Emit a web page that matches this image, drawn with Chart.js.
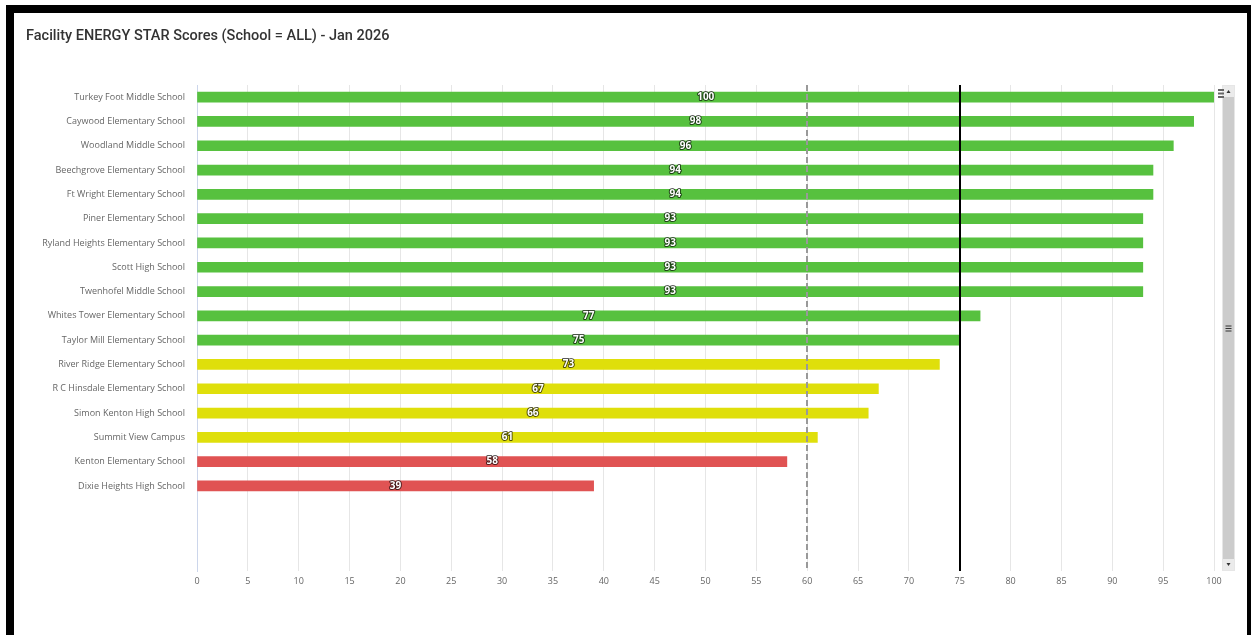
<!DOCTYPE html>
<html>
<head>
<meta charset="utf-8">
<title>Facility ENERGY STAR Scores</title>
<script src="https://cdn.jsdelivr.net/npm/chart.js@4.4.1/dist/chart.umd.min.js"></script>
<style>
  html, body { margin: 0; padding: 0; background: #fff; overflow: hidden; }
  #frame {
    position: absolute; left: 6px; top: 5px; width: 1249px; height: 700px;
    border: 8px solid #000; box-sizing: border-box; background: #fff;
  }
  #wrap { position: absolute; left: 0; top: 0; width: 1233px; height: 622px; }
</style>
</head>
<body>
<div id="frame">
  <div id="wrap"><canvas id="grafico"></canvas></div>
</div>
<script>
// datos del gráfico
const schools = [
  'Turkey Foot Middle School',
  'Caywood Elementary School',
  'Woodland Middle School',
  'Beechgrove Elementary School',
  'Ft Wright Elementary School',
  'Piner Elementary School',
  'Ryland Heights Elementary School',
  'Scott High School',
  'Twenhofel Middle School',
  'Whites Tower Elementary School',
  'Taylor Mill Elementary School',
  'River Ridge Elementary School',
  'R C Hinsdale Elementary School',
  'Simon Kenton High School',
  'Summit View Campus',
  'Kenton Elementary School',
  'Dixie Heights High School',
  '', '', ''   // filas vacías al final del eje
];
const scores = [100, 98, 96, 94, 94, 93, 93, 93, 93, 77, 75, 73, 67, 66, 61, 58, 39, null, null, null];
const xMin = 0, xMax = 100, xStep = 5;
const dashedLineAt = 60;
const solidLineAt = 75;

const GREEN = '#57c13f', YELLOW = '#dfdf0b', RED = '#e05353';
const barColors = scores.map(v => v >= solidLineAt ? GREEN : (v >= dashedLineAt ? YELLOW : RED));

// líneas verticales en 60 y 75
const plotLines = {
  id: 'plotLines',
  afterDatasetsDraw(chart) {
    const { ctx, chartArea: a, scales: { x } } = chart;
    ctx.save();
    ctx.lineWidth = 2;
    let px = Math.round(x.getPixelForValue(dashedLineAt));
    ctx.strokeStyle = '#999999';
    ctx.setLineDash([6, 3]);
    ctx.beginPath(); ctx.moveTo(px, a.top); ctx.lineTo(px, a.bottom); ctx.stroke();
    px = Math.round(x.getPixelForValue(solidLineAt));
    ctx.strokeStyle = '#000000';
    ctx.setLineDash([]);
    ctx.beginPath(); ctx.moveTo(px, a.top); ctx.lineTo(px, a.bottom); ctx.stroke();
    ctx.restore();
  }
};

// etiquetas en el centro de cada barra
const barLabels = {
  id: 'barLabels',
  afterDatasetsDraw(chart) {
    const { ctx } = chart;
    const meta = chart.getDatasetMeta(0);
    ctx.save();
    ctx.font = 'bold 10px "Open Sans", sans-serif';
    ctx.textAlign = 'center';
    ctx.textBaseline = 'middle';
    ctx.lineJoin = 'round';
    meta.data.forEach((bar, i) => {
      const v = scores[i];
      if (v === null) return;
      const cx = (bar.x + bar.base) / 2;
      ctx.lineWidth = 2;
      ctx.strokeStyle = 'rgba(0,0,0,0.65)';
      ctx.strokeText(String(v), cx, bar.y);
      ctx.fillStyle = '#ffffff';
      ctx.fillText(String(v), cx, bar.y);
    });
    ctx.restore();
  }
};

// barra de desplazamiento y menú
const scrollBar = {
  id: 'scrollBar',
  afterDraw(chart) {
    const { ctx, chartArea: a } = chart;
    const sx = a.right + 9, w = 11;
    ctx.save();
    ctx.fillStyle = '#e6e6e6';
    ctx.fillRect(sx - 1, a.top, w + 2, a.bottom - a.top);
    ctx.fillStyle = '#cccccc';
    ctx.fillRect(sx, a.top + 1, w, a.bottom - a.top - 2);
    // botones
    ctx.fillStyle = '#ebebeb';
    ctx.fillRect(sx, a.top + 1, w, 11);
    ctx.fillRect(sx, a.bottom - 12, w, 11);
    ctx.fillStyle = '#333333';
    const mx = sx + w / 2;
    ctx.beginPath(); ctx.moveTo(mx - 2, a.top + 8); ctx.lineTo(mx + 2, a.top + 8); ctx.lineTo(mx, a.top + 5); ctx.fill();
    ctx.beginPath(); ctx.moveTo(mx - 2, a.bottom - 8); ctx.lineTo(mx + 2, a.bottom - 8); ctx.lineTo(mx, a.bottom - 5); ctx.fill();
    // agarre
    const my = (a.top + a.bottom) / 2;
    ctx.strokeStyle = '#333333';
    ctx.lineWidth = 1;
    for (let k = -1; k <= 1; k++) {
      ctx.beginPath(); ctx.moveTo(mx - 3, my + k * 2.5 + 0.5); ctx.lineTo(mx + 3, my + k * 2.5 + 0.5); ctx.stroke();
    }
    // icono de menú
    ctx.strokeStyle = '#666666';
    ctx.lineWidth = 2;
    for (let k = 0; k < 3; k++) {
      const yy = a.top + 5 + k * 3.5;
      ctx.beginPath(); ctx.moveTo(a.right + 4, yy); ctx.lineTo(a.right + 10, yy); ctx.stroke();
    }
    ctx.restore();
  }
};

new Chart(document.getElementById('grafico'), {
  type: 'bar',
  data: {
    labels: schools,
    datasets: [{
      data: scores,
      backgroundColor: barColors,
      barThickness: 10,
      borderWidth: 0
    }]
  },
  options: {
    indexAxis: 'y',
    responsive: true,
    maintainAspectRatio: false,
    animation: false,
    layout: { padding: { left: 12, right: 33, top: 0, bottom: 36 } },
    plugins: {
      legend: { display: false },
      tooltip: { enabled: false },
      title: {
        display: true,
        align: 'start',
        text: 'Facility ENERGY STAR Scores (School = ALL) - Jan 2026',
        color: '#333333',
        font: { family: 'Roboto', size: 14.5, weight: '500', lineHeight: 1.2 },
        padding: { top: 15, bottom: 39.6 }
      }
    },
    scales: {
      x: {
        min: xMin,
        max: xMax,
        ticks: { stepSize: xStep, color: '#666666', padding: 5,
                 font: { family: '"Open Sans"', size: 9 } },
        grid: { color: '#e6e6e6', drawTicks: false },
        border: { display: false },
        afterFit(scale) { scale.height = 28; }
      },
      y: {
        ticks: { color: '#666666', padding: 12, autoSkip: false,
                 font: { family: '"Open Sans"', size: 9 } },
        grid: { display: false, drawTicks: false },
        border: { display: true, color: '#ccd6eb', width: 1 },
        afterFit(scale) { scale.width = 171; }
      }
    }
  },
  plugins: [plotLines, barLabels, scrollBar]
});
</script>
</body>
</html>
